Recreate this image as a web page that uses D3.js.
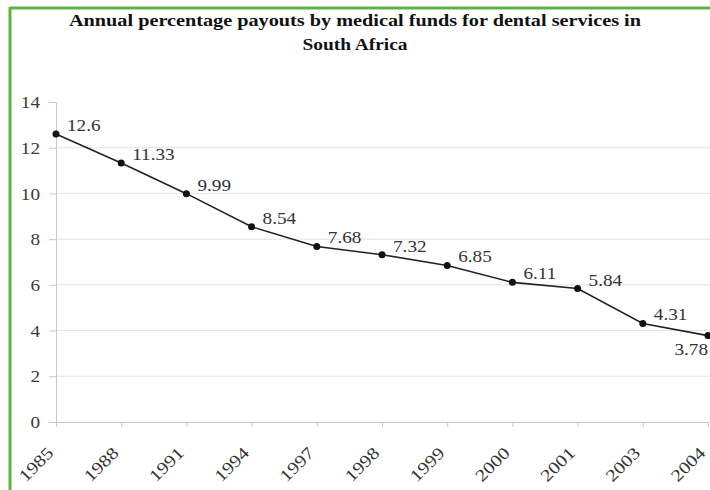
<!DOCTYPE html>
<html><head><meta charset="utf-8">
<script src="https://cdn.jsdelivr.net/npm/d3@7"></script>
<style>body{margin:0;background:#fff}svg{display:block}</style>
</head><body><svg id="c" width="710" height="490"></svg>
<script>
const years = ["1985","1988","1991","1994","1997","1998","1999","2000","2001","2003","2004"];
const payouts = [12.6, 11.33, 9.99, 8.54, 7.68, 7.32, 6.85, 6.11, 5.84, 4.31, 3.78];
const yTicks = [0,2,4,6,8,10,12,14];
const titleLines = ["Annual percentage payouts by medical funds for dental services in", "South Africa"];

const FONT = '"Liberation Serif","Times New Roman",serif';
const SX = 1.2;
const svg = d3.select("#c");
svg.append("rect").attr("x",0).attr("y",0).attr("width",710).attr("height",490).attr("fill","#fff");
svg.append("line").attr("x1",10).attr("x2",710).attr("y1",8).attr("y2",8).attr("stroke","#5cb247").attr("stroke-width",3);
svg.append("line").attr("x1",10).attr("x2",10).attr("y1",7).attr("y2",490).attr("stroke","#5cb247").attr("stroke-width",3);

const x = d3.scalePoint().domain(years).range([56,708]);
const y = d3.scaleLinear().domain([0,14]).range([422,102]);

svg.append("g").selectAll("line").data(yTicks.filter(d=>d>0 && d<14)).join("line")
  .attr("x1",56).attr("x2",710).attr("y1",d=>y(d)).attr("y2",d=>y(d))
  .attr("stroke","#e3e3e3").attr("stroke-width",1);

const ya = svg.append("g").attr("transform","translate(56,0)")
  .call(d3.axisLeft(y).tickValues(yTicks).tickSize(7).tickPadding(9));
ya.select(".domain").attr("stroke","#c8c8c8");
ya.selectAll(".tick line").attr("stroke","#c8c8c8");
ya.selectAll("text").style("font-family",FONT).style("font-size","16px").attr("fill","#3a3a3a")
  .attr("x",-16/SX).attr("dy","0.35em").attr("transform",`scale(${SX},1)`);

const xa = svg.append("g").attr("transform","translate(0,422)")
  .call(d3.axisBottom(x).tickSize(5).tickSizeOuter(0));
xa.select(".domain").attr("stroke","#c8c8c8");
xa.selectAll(".tick line").attr("stroke","#c8c8c8");
xa.selectAll("text").style("font-family",FONT).style("font-size","17px").attr("fill","#333")
  .attr("text-anchor","end").attr("dy",0).attr("y",0)
  .attr("transform",`translate(-2,32) rotate(-45) scale(${SX},1)`);

svg.append("path").datum(payouts)
  .attr("d", d3.line().x((d,i)=>x(years[i])).y(d=>y(d)))
  .attr("fill","none").attr("stroke","#222").attr("stroke-width",1.6);
svg.append("g").selectAll("circle").data(payouts).join("circle")
  .attr("cx",(d,i)=>x(years[i])).attr("cy",d=>y(d)).attr("r",3.5).attr("fill","#111");

const last = payouts.length-1;
svg.append("g").selectAll("text").data(payouts).join("text")
  .attr("transform",(d,i)=> i===last
      ? `translate(708,${y(d)+19}) scale(${SX},1)`
      : `translate(${x(years[i])+11},${y(d)-3}) scale(${SX},1)`)
  .attr("text-anchor",(d,i)=>i===last ? "end" : "start")
  .style("font-family",FONT).style("font-size","16px").attr("fill","#333")
  .text(d=>d);

svg.append("g").selectAll("text").data(titleLines).join("text")
  .attr("x",355).attr("y",(d,i)=>26+i*24).attr("text-anchor","middle")
  .style("font-family",FONT).style("font-size","16px").style("font-weight","bold").attr("fill","#111")
  .attr("textLength",(d,i)=>i===0?572:105).attr("lengthAdjust","spacingAndGlyphs")
  .text(d=>d);
</script></body></html>
